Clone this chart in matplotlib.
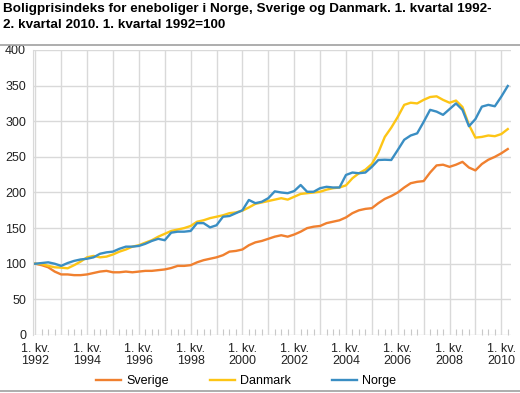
import numpy as np
import matplotlib
matplotlib.use("Agg")
import matplotlib.pyplot as plt
from matplotlib.lines import Line2D

plt.rcParams['font.family'] = ['Liberation Sans', 'DejaVu Sans']

# quarterly index, 1. kv. 1992 - 2. kv. 2010 (1. kv. 1992 = 100)
years = list(range(1992, 2011))
sverige = [100, 98, 95, 89, 85, 85, 84, 84, 85, 87, 89, 90, 88, 88, 89, 88,
           89, 90, 90, 91, 92, 94, 97, 97, 98, 102, 105, 107, 109, 112, 117, 118,
           120, 126, 130, 132, 135, 138, 140, 138, 141, 145, 150, 152, 153, 157, 159, 161,
           165, 171, 175, 177, 178, 185, 191, 195, 200, 207, 213, 215, 216, 228, 238, 239,
           236, 239, 243, 235, 231, 240, 246, 250, 255, 261]
danmark = [100, 99.6, 97, 95, 94.5, 93.6, 98, 103, 109, 111, 109, 110, 113, 117, 120, 124,
           126, 129.6, 133, 138, 142, 146, 148, 150, 153, 159, 161, 164, 166, 168, 171, 172,
           174.5, 179, 184, 186, 188, 190, 192, 190, 194, 198, 199, 200, 201, 204, 206, 207,
           210, 220, 227, 232, 240, 256, 278, 291, 306, 323, 326, 325, 330, 334, 335, 330,
           326, 329, 320, 295, 277, 278, 280, 279, 282, 289]
norge = [100, 101, 102, 100, 97, 101, 104, 106, 107, 109, 114, 116, 117, 121, 124, 124,
         125, 128, 132, 135, 133, 143.6, 145, 145, 146, 157, 157, 151, 154, 166, 167, 171,
         175, 189.5, 185, 187, 192, 201.6, 200, 199, 202, 210.5, 201, 201, 206, 208, 207, 207,
         224.6, 228, 227, 228, 236, 245.6, 246, 245.6, 259.6, 274, 280, 283, 299, 316, 313.5, 309,
         317, 325, 316, 293, 303, 320.5, 323, 321, 334.5, 349.5]

c_se = '#F0802F'
c_dk = '#FDC515'
c_no = '#3A8EC3'
grid_c = '#D9D9D9'

fig = plt.figure(figsize=(5.2, 3.93), dpi=100)
ax = fig.add_axes([0.0635, 0.1476, 0.9192, 0.7252])

q = np.arange(len(norge))
ax.plot(q, sverige, color=c_se, lw=1.7, zorder=3)
ax.plot(q, danmark, color=c_dk, lw=1.7, zorder=3)
ax.plot(q, norge, color=c_no, lw=1.7, zorder=4)

ax.set_xlim(-0.35, 73.5)
ax.set_ylim(0, 400)
ax.set_yticks(range(0, 401, 50))

year_pos = [4 * (y - 1992) for y in years]
ax.set_xticks(year_pos)
ax.set_xticklabels(['1. kv.\n%d' % y if (y - 1992) % 2 == 0 else '' for y in years],
                   linespacing=1.0)
ax.set_xticks(q, minor=True)

ax.grid(True, which='major', color=grid_c, lw=1.0)
ax.set_axisbelow(True)
for s in ['top', 'right', 'bottom']:
    ax.spines[s].set_visible(False)
ax.spines['left'].set_color(grid_c)
ax.tick_params(axis='both', which='major', length=0, labelsize=9, colors='#222222')
ax.tick_params(axis='x', which='major', pad=6)
ax.tick_params(axis='x', which='minor', direction='in', length=4, color='#C8C8C8', width=0.8)
ax.tick_params(axis='y', which='major', pad=5)

fig.text(0.005, 0.992, 'Boligprisindeks for eneboliger i Norge, Sverige og Danmark. 1. kvartal 1992-\n'
         '2. kvartal 2010. 1. kvartal 1992=100',
         ha='left', va='top', fontsize=9.7, fontweight='bold', linespacing=1.45)

fig.add_artist(Line2D([0, 1], [1 - 45 / 393, 1 - 45 / 393], color='#A0A0A0', lw=1.2))
fig.add_artist(Line2D([0, 1], [1 - 391 / 393, 1 - 391 / 393], color='#A0A0A0', lw=1.2))

handles = [Line2D([], [], color=c, lw=1.7) for c in (c_se, c_dk, c_no)]
fig.legend(handles, ['Sverige', 'Danmark', 'Norge'], loc='center', ncol=3,
           bbox_to_anchor=(0.473, 1 - 381 / 393), frameon=False, fontsize=9,
           handlelength=2.0, columnspacing=3.3, handletextpad=0.4)

fig.savefig('out.png', dpi=100)
